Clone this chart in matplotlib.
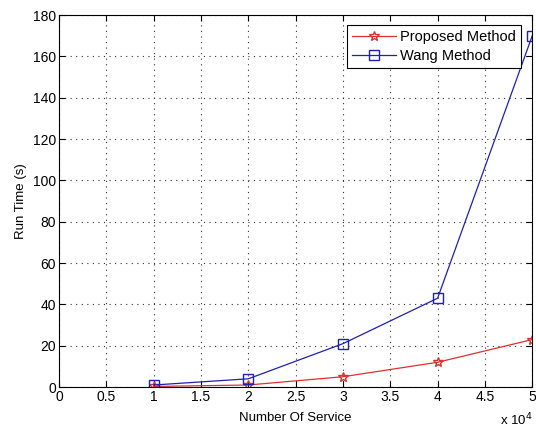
import matplotlib
matplotlib.use("Agg")
import matplotlib.pyplot as plt

x_vals = [10000, 20000, 30000, 40000, 50000]
proposed = [0.3, 1.0, 5.0, 12.0, 23.0]
wang = [1.0, 4.0, 21.0, 43.0, 170.0]
x_ticks = [0, 5000, 10000, 15000, 20000, 25000, 30000, 35000, 40000, 45000, 50000]
x_tick_labels = ["0", "0.5", "1", "1.5", "2", "2.5", "3", "3.5", "4", "4.5", "5"]
y_ticks = list(range(0, 181, 20))

plt.rcParams['font.family'] = ['Liberation Sans', 'DejaVu Sans']
fig = plt.figure(figsize=(5.36, 4.32), dpi=100)
ax = fig.add_axes([0.110, 0.104, 0.883, 0.861])

ax.plot(x_vals, proposed, color='#e03030', marker='*', markersize=7, markerfacecolor='none',
        markeredgecolor='#e03030', linewidth=0.9, label='Proposed Method')
ax.plot(x_vals, wang, color='#2020b0', marker='s', markersize=7, markerfacecolor='none',
        markeredgecolor='#2020b0', linewidth=0.9, label='Wang Method')

ax.set_xlim(0, 50000)
ax.set_ylim(0, 180)
ax.set_xticks(x_ticks)
ax.set_xticklabels(x_tick_labels)
ax.set_yticks(y_ticks)
ax.tick_params(direction='in', labelsize=10, length=4, top=True, right=True, pad=2)
ax.grid(True, linestyle=(0, (1, 4)), color='#333333', linewidth=0.8)
ax.set_xlabel('Number Of Service', fontsize=9.5, labelpad=6)
ax.set_ylabel('Run Time (s)', fontsize=9.5, labelpad=4)
for s in ax.spines.values():
    s.set_linewidth(0.8)

fig.text(0.993, 0.008, r'x 10$^{4}$', ha='right', va='bottom', fontsize=9.5)

leg = ax.legend(loc='upper right', fontsize=10.5, fancybox=False, framealpha=1,
                edgecolor='black', borderaxespad=0.6, handlelength=3.0,
                handletextpad=0.3, borderpad=0.35, labelspacing=0.35,
                bbox_to_anchor=(0.995, 0.997))
leg.get_frame().set_linewidth(0.8)

fig.savefig('out.png', dpi=100, facecolor='white')
